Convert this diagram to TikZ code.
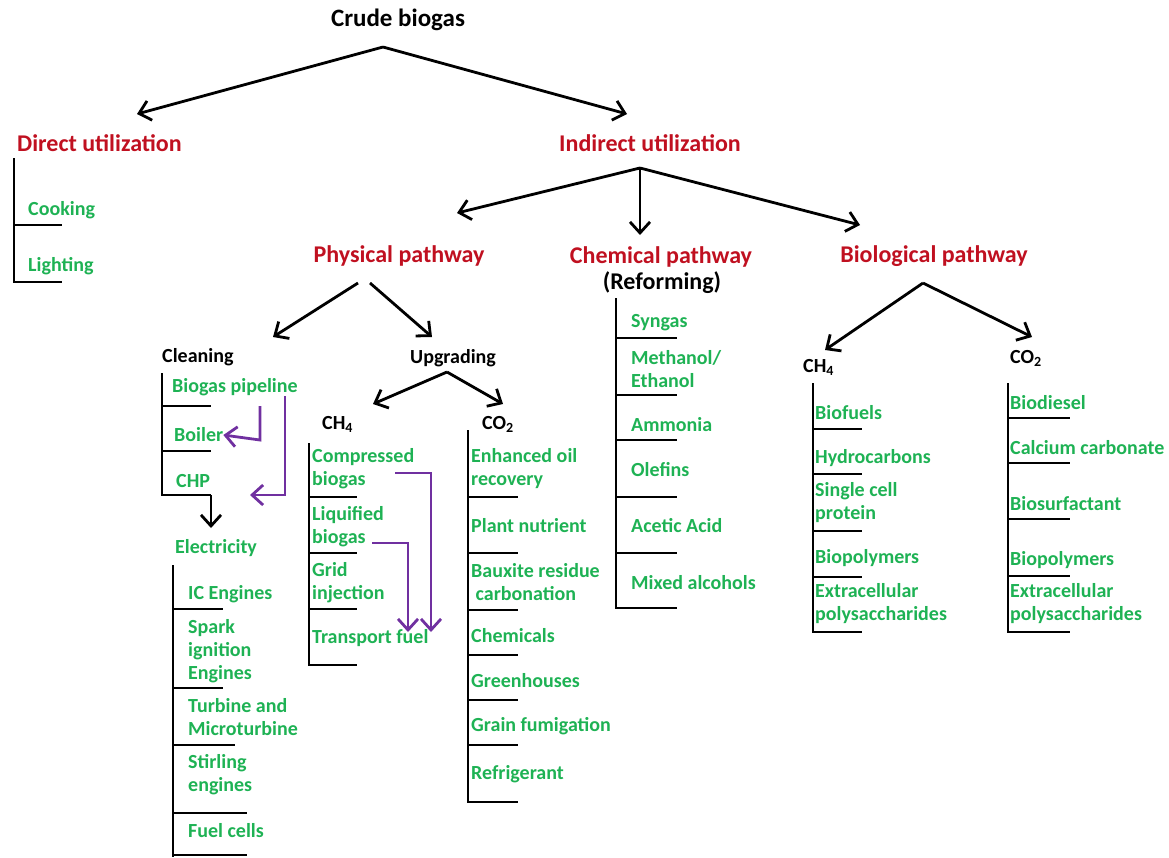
\documentclass[tikz,border=0pt]{standalone}
\usepackage{fontspec}
\setmainfont{Carlito}
\usepackage{xcolor}
\usepackage{tikz}
\usetikzlibrary{arrows.meta}
\definecolor{headred}{RGB}{192,16,32}
\definecolor{leafgreen}{RGB}{30,178,84}
\definecolor{linkpurple}{RGB}{112,48,160}

\begin{document}
\begin{tikzpicture}[x=1pt, y=-1pt,
    >={Straight Barb[length=11pt,width=20pt]},
    title/.style={font=\fontsize{25}{28}\selectfont\bfseries, inner sep=0pt},
    redhead/.style={font=\fontsize{24}{27}\selectfont\bfseries, text=headred, inner sep=0pt},
    sub/.style={font=\fontsize{20}{23}\selectfont\bfseries, inner sep=0pt, anchor=west},
    gas/.style={font=\fontsize{20}{23}\selectfont\bfseries, inner sep=0pt, anchor=west},
    leaf/.style={font=\fontsize{20}{23}\selectfont\bfseries, text=leafgreen, inner sep=0pt, anchor=west, align=left},
    tree/.style={line width=2.8pt},
    link/.style={line width=2.8pt, ->},
    purplelink/.style={line width=2.8pt, ->, color=linkpurple}]
    \useasboundingbox (0,0) rectangle (1169,857);

    % headings
    \node[title] (CB) at (398,20) {Crude biogas};
    \node[redhead, anchor=west] (DU) at (17,143) {Direct utilization};
    \node[redhead] (IU) at (650,143) {Indirect utilization};
    \node[redhead] (PP) at (399,256) {Physical pathway};
    \node[redhead] (CP) at (661,257) {Chemical pathway};
    \node[title, font=\fontsize{24}{27}\selectfont\bfseries] (RF) at (662,283) {(Reforming)};
    \node[redhead] (BP) at (934,256) {Biological pathway};

    \node[sub] (CL) at (162,357) {Cleaning};
    \node[sub] (UP) at (410,358) {Upgrading};
    \node[gas] (UCH) at (322,424) {CH\textsubscript{4}};
    \node[gas] (UCO) at (482,424) {CO\textsubscript{2}};
    \node[gas] (BCH) at (803,367) {CH\textsubscript{4}};
    \node[gas] (BCO) at (1010,358) {CO\textsubscript{2}};

    % arrow apexes and tips
    \coordinate (CBa) at (383,47);
    \coordinate (DUt) at (137,114);
    \coordinate (IUt) at (627,114);
    \coordinate (IUa) at (640,168);
    \coordinate (PPt) at (457,213);
    \coordinate (CPt) at (640,235);
    \coordinate (BPt) at (860,225);
    \coordinate (PPa1) at (358,283);
    \coordinate (PPa2) at (370,283);
    \coordinate (CLt) at (273,337);
    \coordinate (UPt) at (432,337);
    \coordinate (UPa) at (447,372);
    \coordinate (UCHt) at (373,404);
    \coordinate (UCOt) at (503,404);
    \coordinate (BPa) at (923,283);
    \coordinate (BCHt) at (825,350);
    \coordinate (BCOt) at (1032,337);

    \path [link] (CBa) edge (DUt);
    \path [link] (CBa) edge (IUt);
    \path [link] (IUa) edge (PPt);
    \path [link] (IUa) edge (CPt);
    \path [link] (IUa) edge (BPt);
    \path [link] (PPa1) edge (CLt);
    \path [link] (PPa2) edge (UPt);
    \path [link] (UPa) edge (UCHt);
    \path [link] (UPa) edge (UCOt);
    \path [link] (BPa) edge (BCHt);
    \path [link] (BPa) edge (BCOt);

    % direct utilization
    \node[leaf] (D1) at (28,210) {Cooking};
    \node[leaf] (D2) at (28,266) {Lighting};
    \draw[tree] (14,158) -- (14,282) -- (62,282) (14,225) -- (62,225);

    % cleaning
    \node[leaf] (C1) at (172,387) {Biogas pipeline};
    \node[leaf] (C2) at (174,435) {Boiler};
    \node[leaf] (C3) at (176,481) {CHP};
    \draw[tree] (162,373) -- (162,495) -- (211,495) (162,406) -- (211,406) (162,451) -- (211,451);
    \coordinate (CLd) at (211,495);
    \coordinate (ELt) at (211,528);
    \path [link] (CLd) edge (ELt);
    \draw[purplelink] (260,406) -- (260,440) -- (C2.east);
    \coordinate (C1r) at (285,396);
    \coordinate (C3t) at (250,495);
    \draw[purplelink] (C1r) -- (285,495) -- (C3t);

    % electricity
    \node[leaf] (EL) at (175,548) {Electricity};
    \node[leaf] (E1) at (188,594) {IC Engines};
    \node[leaf] (E2) at (188,651) {Spark\\ignition\\Engines};
    \node[leaf] (E3) at (188,717) {Turbine and\\Microturbine};
    \node[leaf] (E4) at (188,775) {Stirling\\engines};
    \node[leaf] (E5) at (188,831) {Fuel cells};
    \draw[tree] (173,565) -- (173,857) (173,609) -- (223,609) (173,688) -- (223,688)
        (173,745) -- (235,745) (173,813) -- (247,813) (173,855) -- (247,855);

    % upgrading CH4
    \node[leaf] (U1) at (312,469) {Compressed\\biogas};
    \node[leaf] (U2) at (312,527) {Liquified\\biogas};
    \node[leaf] (U3) at (312,583) {Grid\\injection};
    \node[leaf] (U4) at (312,638) {Transport fuel};
    \draw[tree] (309,443) -- (309,665) -- (357,665) (309,497) -- (357,497)
        (309,553) -- (357,553) (309,609) -- (357,609);
    \coordinate (U1r) at (395,473);
    \coordinate (U2r) at (372,543);
    \coordinate (U4a) at (431,632);
    \coordinate (U4b) at (408,632);
    \draw[purplelink] (U1r) -- (431,473) -- (U4a);
    \draw[purplelink] (U2r) -- (408,543) -- (U4b);

    % upgrading CO2
    \node[leaf] (V1) at (471,469) {Enhanced oil\\recovery};
    \node[leaf] (V2) at (471,526) {Plant nutrient};
    \node[leaf] (V3) at (471,582) {Bauxite residue\\\ carbonation};
    \node[leaf] (V4) at (471,636) {Chemicals};
    \node[leaf] (V5) at (471,681) {Greenhouses};
    \node[leaf] (V6) at (471,726) {Grain fumigation};
    \node[leaf] (V7) at (471,774) {Refrigerant};
    \draw[tree] (468,430) -- (468,802) -- (518,802) (468,497) -- (518,497) (468,553) -- (518,553)
        (468,610) -- (518,610) (468,655) -- (518,655) (468,700) -- (518,700) (468,745) -- (518,745);

    % chemical pathway
    \node[leaf] (R1) at (631,323) {Syngas};
    \node[leaf] (R2) at (631,369) {Methanol/\\Ethanol};
    \node[leaf] (R3) at (631,425) {Ammonia};
    \node[leaf] (R4) at (631,470) {Olefins};
    \node[leaf] (R5) at (631,526) {Acetic Acid};
    \node[leaf] (R6) at (631,583) {Mixed alcohols};
    \draw[tree] (616,298) -- (616,608) -- (677,608) (616,338) -- (677,338) (616,395) -- (677,395)
        (616,440) -- (677,440) (616,497) -- (677,497) (616,553) -- (677,553);

    % biological CH4
    \node[leaf] (B1) at (815,413) {Biofuels};
    \node[leaf] (B2) at (815,458) {Hydrocarbons};
    \node[leaf] (B3) at (815,503) {Single cell\\protein};
    \node[leaf] (B4) at (815,558) {Biopolymers};
    \node[leaf] (B5) at (815,604) {Extracellular\\polysaccharides};
    \draw[tree] (813,383) -- (813,632) -- (862,632) (813,429) -- (862,429) (813,474) -- (862,474)
        (813,531) -- (862,531) (813,577) -- (862,577);

    % biological CO2
    \node[leaf] (G1) at (1010,403) {Biodiesel};
    \node[leaf] (G2) at (1010,448) {Calcium carbonate};
    \node[leaf] (G3) at (1010,504) {Biosurfactant};
    \node[leaf] (G4) at (1010,560) {Biopolymers};
    \node[leaf] (G5) at (1010,604) {Extracellular\\polysaccharides};
    \draw[tree] (1008,383) -- (1008,632) -- (1070,632) (1008,418) -- (1070,418) (1008,463) -- (1070,463)
        (1008,519) -- (1070,519) (1008,576) -- (1070,576);
\end{tikzpicture}
\end{document}
